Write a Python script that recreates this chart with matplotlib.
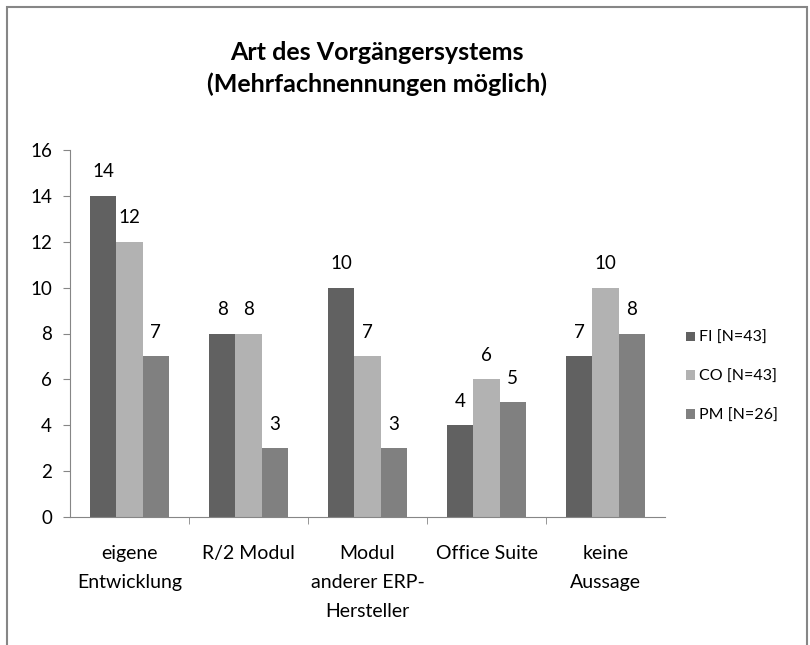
import matplotlib.pyplot as plt
import numpy as np
from matplotlib.patches import Rectangle

categories = ["eigene\nEntwicklung", "R/2 Modul", "Modul\nanderer ERP-\nHersteller",
              "Office Suite", "keine\nAussage"]
series_names = ["FI [N=43]", "CO [N=43]", "PM [N=26]"]
fi = [14, 8, 10, 4, 7]
co = [12, 8, 7, 6, 10]
pm = [7, 3, 3, 5, 8]
colors = ["#616161", "#b2b2b2", "#808080"]

plt.rcParams["font.family"] = ["Lato", "DejaVu Sans"]

fig = plt.figure(figsize=(8.1, 6.45), dpi=100)
ax = fig.add_axes([70 / 810, 1 - 517 / 645, 595 / 810, 367 / 645])

x = np.arange(len(categories))
w = 0.22
for i, (vals, name, c) in enumerate(zip([fi, co, pm], series_names, colors)):
    pos = x + (i - 1) * w
    bars = ax.bar(pos, vals, width=w, color=c, label=name)
    for b, v in zip(bars, vals):
        ax.text(b.get_x() + b.get_width() / 2, v + 1.05, str(v),
                ha="center", va="center", fontsize=13.5)

ax.set_xlim(-0.5, len(categories) - 0.5)
ax.set_ylim(0, 16)
ax.set_yticks(range(0, 17, 2))
ax.tick_params(axis="y", labelsize=13.5, color="#868686", length=5, pad=8)
ax.set_xticks(x)
ax.set_xticklabels(categories, fontsize=14, linespacing=1.85)
ax.tick_params(axis="x", length=0, pad=20)
ax.set_xticks(np.arange(0.5, len(categories) - 0.5), minor=True)
ax.tick_params(axis="x", which="minor", length=5, color="#868686")
for s in ["top", "right"]:
    ax.spines[s].set_visible(False)
for s in ["left", "bottom"]:
    ax.spines[s].set_color("#868686")

fig.text(377 / 810, 1 - 68.5 / 645, "Art des Vorgängersystems\n(Mehrfachnennungen möglich)",
         ha="center", va="center", fontsize=18, fontweight="bold", linespacing=1.45)

ax.legend(loc="center left", bbox_to_anchor=(1.035, 0.382), frameon=False,
          fontsize=11.5, handlelength=0.55, handleheight=0.55, labelspacing=1.55,
          handletextpad=0.3, borderpad=0, borderaxespad=0)

fig.patches.append(Rectangle((7 / 810, -0.05), 800 / 810, 1.05 - 7 / 645,
                             transform=fig.transFigure, fill=False,
                             edgecolor="#868686", linewidth=1.5, clip_on=False))

fig.savefig("out.png", dpi=100)
